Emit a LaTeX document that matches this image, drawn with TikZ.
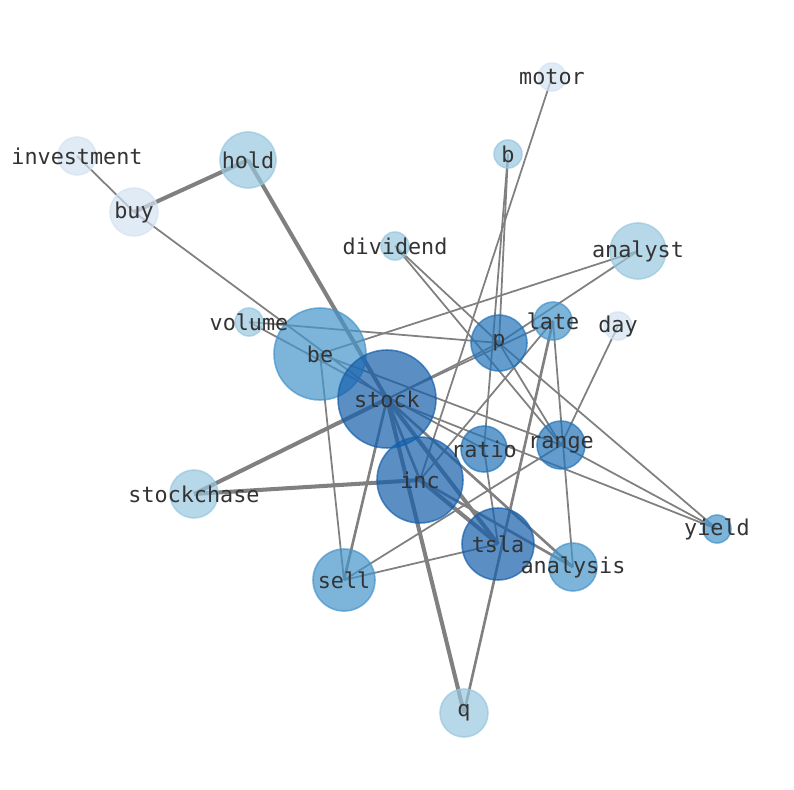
\documentclass[tikz,border=0pt]{standalone}
\usepackage{fontspec}
\setmonofont{DejaVu Sans Mono}
\usetikzlibrary{backgrounds}
\definecolor{ToneA}{RGB}{211,226,242}
\definecolor{ToneB}{RGB}{152,199,222}
\definecolor{ToneC}{RGB}{69,148,203}
\definecolor{ToneD}{RGB}{34,116,184}
\definecolor{ToneE}{RGB}{21,95,171}
\definecolor{LinkGray}{RGB}{128,128,128}
\definecolor{LabelGray}{RGB}{51,51,51}
\tikzset{
  term/.style={circle,inner sep=0pt,outer sep=0pt,line width=0.9pt,
    fill opacity=0.7,draw opacity=0.7},
  toneA/.style={term,draw=ToneA,fill=ToneA},
  toneB/.style={term,draw=ToneB,fill=ToneB},
  toneC/.style={term,draw=ToneC,fill=ToneC},
  toneD/.style={term,draw=ToneD,fill=ToneD},
  toneE/.style={term,draw=ToneE,fill=ToneE},
  tag/.style={font=\ttfamily\fontsize{12.4}{14}\selectfont,text=LabelGray,
    inner sep=0pt},
  link/.style={draw=LinkGray,line width=1pt},
  midlink/.style={link,line width=1.5pt},
  heavylink/.style={link,line width=2.3pt}
}

\begin{document}
\begin{tikzpicture}[x=0.02cm,y=-0.02cm]
  \useasboundingbox (0,0) rectangle (794,790);
  % words
  \node[toneA,minimum size=0.56cm] (motor) at (552,77) {};
  \node[toneB,minimum size=0.56cm] (b) at (508,154) {};
  \node[toneA,minimum size=0.76cm] (investment) at (77,156) {};
  \node[toneB,minimum size=1.12cm] (hold) at (248,160) {};
  \node[toneA,minimum size=0.96cm] (buy) at (134,212) {};
  \node[toneB,minimum size=0.56cm] (dividend) at (395,246) {};
  \node[toneB,minimum size=1.12cm] (analyst) at (638,251) {};
  \node[toneB,minimum size=0.56cm] (volume) at (249,322) {};
  \node[toneC,minimum size=0.76cm] (late) at (553,321) {};
  \node[toneA,minimum size=0.56cm] (day) at (618,326) {};
  \node[toneD,minimum size=1.12cm] (p) at (499,343) {};
  \node[toneC,minimum size=1.84cm] (be) at (320,354) {};
  \node[toneE,minimum size=1.96cm] (stock) at (387,399) {};
  \node[toneD,minimum size=0.92cm] (ratio) at (484,449) {};
  \node[toneD,minimum size=0.96cm] (range) at (561,445) {};
  \node[toneE,minimum size=1.72cm] (inc) at (420,480) {};
  \node[toneB,minimum size=0.96cm] (stockchase) at (194,494) {};
  \node[toneC,minimum size=0.56cm] (yield) at (717,529) {};
  \node[toneE,minimum size=1.44cm] (tsla) at (498,544) {};
  \node[toneC,minimum size=0.96cm] (analysis) at (573,567) {};
  \node[toneC,minimum size=1.24cm] (sell) at (344,580) {};
  \node[toneB,minimum size=0.96cm] (q) at (464,713) {};
  % names on top
  \foreach \w in {motor,b,investment,hold,buy,dividend,analyst,volume,late,
    day,p,be,stock,ratio,range,inc,stockchase,yield,tsla,analysis,sell,q}
    \node[tag] at (\w) {\w};
  % co-occurrence links
  \begin{scope}[on background layer]
    \draw[link] (investment.center) -- (buy.center);
    \draw[heavylink] (buy.center) -- (hold.center);
    \draw[link] (buy.center) -- (stock.center);
    \draw[heavylink] (hold.center) -- (stock.center);
    \draw[link] (volume.center) -- (p.center);
    \draw[link] (volume.center) -- (ratio.center);
    \draw[link] (be.center) -- (analyst.center);
    \draw[link] (be.center) -- (sell.center);
    \draw[link] (be.center) -- (range.center);
    \draw[link] (dividend.center) -- (p.center);
    \draw[link] (dividend.center) -- (range.center);
    \draw[link] (b.center) -- (p.center);
    \draw[link] (b.center) -- (ratio.center);
    \draw[link] (ratio.center) -- (tsla.center);
    \draw[link] (motor.center) -- (inc.center);
    \draw[link] (analyst.center) -- (p.center);
    \draw[link] (p.center) -- (stock.center);
    \draw[link] (late.center) -- (stock.center);
    \draw[link] (p.center) -- (range.center);
    \draw[link] (p.center) -- (yield.center);
    \draw[link] (range.center) -- (yield.center);
    \draw[link] (stock.center) -- (yield.center);
    \draw[link] (day.center) -- (range.center);
    \draw[link] (late.center) -- (analysis.center);
    \draw[midlink] (late.center) -- (q.center);
    \draw[link] (late.center) -- (inc.center);
    \draw[link] (range.center) -- (sell.center);
    \draw[link] (sell.center) -- (tsla.center);
    \draw[midlink] (sell.center) -- (stock.center);
    \draw[heavylink] (stock.center) -- (stockchase.center);
    \draw[heavylink] (inc.center) -- (stockchase.center);
    \draw[midlink] (stock.center) -- (inc.center);
    \draw[heavylink] (stock.center) -- (q.center);
    \draw[heavylink] (stock.center) -- (tsla.center);
    \draw[heavylink] (inc.center) -- (tsla.center);
    \draw[midlink] (stock.center) -- (analysis.center);
    \draw[midlink] (inc.center) -- (analysis.center);
  \end{scope}
\end{tikzpicture}
\end{document}
